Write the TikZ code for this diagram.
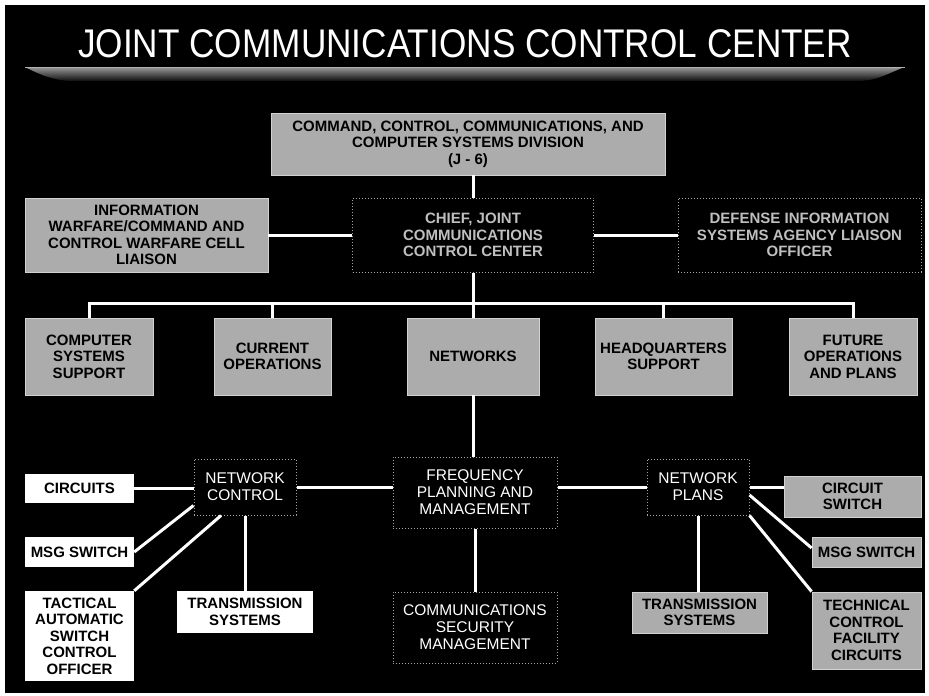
\documentclass[tikz,border=0pt]{standalone}
\usepackage{graphicx}
\usepackage{fontspec}
\setmainfont{Liberation Sans}
\begin{document}
\begin{tikzpicture}[x=1pt,y=-1pt,
  conn/.style={draw=white,line width=3pt},
  boldtxt/.style={font=\bfseries\fontsize{15}{16.5}\selectfont, align=center, inner sep=0pt},
  graybox/.style={boldtxt, fill=gray!65, draw=gray!35, line width=0.8pt, text=black},
  whitebox/.style={boldtxt, fill=white, text=black},
  darkbox/.style={fill=black, draw=gray!70, dotted, line width=1pt, text=white,
    font=\fontsize{15.5}{17}\selectfont, align=center, inner sep=0pt},
  faintbox/.style={darkbox, text=gray!50, font=\bfseries\fontsize{15}{16.5}\selectfont}
]
\useasboundingbox (0,0) rectangle (929,696);
\fill[white] (0,0) rectangle (929,696);
\fill[black] (5,5) rectangle (925,693);

% title and swoosh
\node[text=white, inner sep=0pt] (title) at (465,44)
  {\fontsize{40}{40}\selectfont\scalebox{0.88}[1]{JOINT COMMUNICATIONS CONTROL CENTER}};
\shade[top color=gray!80, bottom color=black!90!gray]
  (25,67) -- (905,67) .. controls (890,72) and (880,80) .. (860,81)
  -- (70,81) .. controls (50,80) and (35,72) .. (25,67) -- cycle;
\draw[gray!60, line width=1pt] (25,67) -- (905,67);

% level 1
\node[graybox, minimum width=394pt, minimum height=62pt] (j6) at (468,144)
  {COMMAND, CONTROL, COMMUNICATIONS, AND\\COMPUTER SYSTEMS DIVISION\\(J - 6)};

% level 2
\node[graybox, minimum width=243pt, minimum height=74pt] (iw) at (146.5,235)
  {INFORMATION\\WARFARE/COMMAND AND\\CONTROL WARFARE CELL\\LIAISON};
\node[faintbox, minimum width=241pt, minimum height=74pt] (jccc) at (473,235)
  {CHIEF, JOINT\\COMMUNICATIONS\\CONTROL CENTER};
\node[faintbox, minimum width=243pt, minimum height=74pt] (disa) at (799.5,235)
  {DEFENSE INFORMATION\\SYSTEMS AGENCY LIAISON\\OFFICER};

% level 3
\node[graybox, minimum width=128pt, minimum height=77pt] (css) at (89,356.5)
  {COMPUTER\\SYSTEMS\\SUPPORT};
\node[graybox, minimum width=117pt, minimum height=77pt] (cur) at (272.5,356.5)
  {CURRENT\\OPERATIONS};
\node[graybox, minimum width=132pt, minimum height=77pt] (net) at (473,356.5)
  {NETWORKS};
\node[graybox, minimum width=137pt, minimum height=77pt] (hq) at (663.5,356.5)
  {HEADQUARTERS\\SUPPORT};
\node[graybox, minimum width=128pt, minimum height=77pt] (fut) at (853,356.5)
  {FUTURE\\OPERATIONS\\AND PLANS};

% level 4
\node[darkbox, minimum width=102pt, minimum height=56pt] (nc) at (245,487)
  {NETWORK\\CONTROL};
\node[darkbox, minimum width=164pt, minimum height=71pt] (fpm) at (475,492.5)
  {FREQUENCY\\PLANNING AND\\MANAGEMENT};
\node[darkbox, minimum width=102pt, minimum height=56pt] (np) at (698,487)
  {NETWORK\\PLANS};

% left leaves
\node[whitebox, minimum width=109pt, minimum height=29pt] (circ) at (79.5,488.5)
  {CIRCUITS};
\node[whitebox, minimum width=109pt, minimum height=30pt] (msg1) at (79.5,552)
  {MSG SWITCH};
\node[whitebox, minimum width=109pt, minimum height=90pt] (tac) at (79.5,636)
  {TACTICAL\\AUTOMATIC\\SWITCH\\CONTROL\\OFFICER};
\node[whitebox, minimum width=136pt, minimum height=42pt] (ts1) at (245,612)
  {TRANSMISSION\\SYSTEMS};

% centre leaf
\node[darkbox, minimum width=164pt, minimum height=71pt] (comsec) at (475,627.5)
  {COMMUNICATIONS\\SECURITY\\MANAGEMENT};

% right leaves
\node[graybox, minimum width=135pt, minimum height=41pt] (ts2) at (699.5,612.5)
  {TRANSMISSION\\SYSTEMS};
\node[graybox, minimum width=137pt, minimum height=41pt] (cs) at (852.5,496.5)
  {CIRCUIT\\SWITCH};
\node[graybox, minimum width=109pt, minimum height=30pt] (msg2) at (866.5,552)
  {MSG SWITCH};
\node[graybox, minimum width=109pt, minimum height=77pt] (tcf) at (866.5,630.5)
  {TECHNICAL\\CONTROL\\FACILITY\\CIRCUITS};

% connectors
\coordinate (bus) at (0,303);
\draw[conn] (jccc.north |- j6.south) -- (jccc.north);
\draw[conn] (jccc.east) -- (disa.west);
\draw[conn] (iw.east) -- (iw.east -| jccc.west);
\draw[conn] (jccc.south) -- (net.north);
\draw[conn] (css.north) -- (css.north |- bus) -- (fut.north |- bus) -- (fut.north);
\draw[conn] (cur.north) -- (cur.north |- bus);
\draw[conn] (hq.north) -- (hq.north |- bus);
\draw[conn] (net.south) -- (net.south |- fpm.north);

\draw[conn] (circ.east) -- (circ.east -| nc.west);
\draw[conn] (msg1.east) -- ([yshift=10pt]nc.south west);
\draw[conn] (tac.north east) -- ([xshift=-24pt]nc.south);
\draw[conn] (nc.south) -- (nc.south |- ts1.north);
\draw[conn] (nc.east) -- (nc.east -| fpm.west);
\draw[conn] (np.west -| fpm.east) -- (np.west);
\draw[conn] (fpm.south) -- (fpm.south |- comsec.north);
\draw[conn] (np.south) -- (np.south |- ts2.north);
\draw[conn] (np.east) -- (np.east -| cs.west);
\draw[conn] ([yshift=-8pt]np.east) -- ([yshift=4pt]msg2.west);
\draw[conn] (np.south east) -- (tcf.north west);
\end{tikzpicture}
\end{document}
